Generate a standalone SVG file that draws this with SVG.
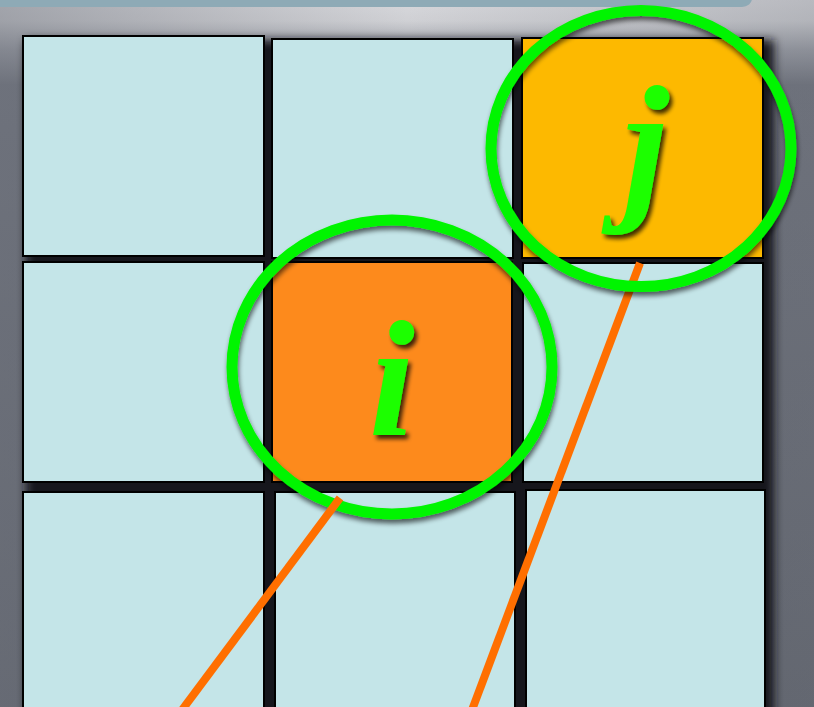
<svg xmlns="http://www.w3.org/2000/svg" width="814" height="707" viewBox="0 0 814 707">
<defs>
<linearGradient id="bg" x1="0" y1="0" x2="0" y2="1">
<stop offset="0" stop-color="#d8d8dc"/>
<stop offset="0.03" stop-color="#cfd0d4"/>
<stop offset="0.07" stop-color="#9a9da5"/>
<stop offset="0.12" stop-color="#6d717b"/>
<stop offset="1" stop-color="#5f636c"/>
</linearGradient>
<linearGradient id="side" x1="0" y1="0" x2="1" y2="0">
<stop offset="0" stop-color="#6e727c" stop-opacity="0.5"/>
<stop offset="0.5" stop-color="#6e727c" stop-opacity="0"/>
<stop offset="1" stop-color="#6e727c" stop-opacity="0.3"/>
</linearGradient>
<filter id="blur" x="-10%" y="-10%" width="120%" height="120%">
<feGaussianBlur stdDeviation="5"/>
</filter>
<filter id="ds" x="-10%" y="-10%" width="120%" height="120%">
<feGaussianBlur in="SourceAlpha" stdDeviation="2.5"/>
<feOffset dx="1" dy="4" result="b"/>
<feComponentTransfer><feFuncA type="linear" slope="0.6"/></feComponentTransfer>
<feMerge><feMergeNode/><feMergeNode in="SourceGraphic"/></feMerge>
</filter>
<filter id="ts" x="-20%" y="-20%" width="140%" height="140%">
<feGaussianBlur in="SourceAlpha" stdDeviation="2"/>
<feOffset dx="3" dy="4"/>
<feComponentTransfer><feFuncA type="linear" slope="0.75"/></feComponentTransfer>
<feMerge><feMergeNode/><feMergeNode in="SourceGraphic"/></feMerge>
</filter>
</defs>
<style>
.cell{fill:#c4e5e8;stroke:#000;stroke-width:2}
.ring{fill:none;stroke:#00f500;stroke-width:11}
.lbl{font-family:"Liberation Serif","Times New Roman",serif;font-style:italic;font-weight:bold;font-size:165px;fill:#1cff00;text-anchor:middle}
.conn{stroke:#ff6f00;stroke-width:8;fill:none}
</style>
<rect width="814" height="707" fill="url(#bg)"/>
<rect width="814" height="707" fill="url(#side)"/>
<rect x="-10" y="-10" width="762" height="17" rx="10" fill="#8eaab6"/>
<rect x="26" y="40" width="748" height="690" fill="#17181c" filter="url(#blur)"/>
<g id="cell-0-0"><rect class="cell" x="23" y="36" width="241" height="220"/></g>
<g id="cell-0-1"><rect class="cell" x="272" y="39" width="241" height="219"/></g>
<g id="cell-0-2"><rect class="cell" x="522" y="38" width="241" height="220" style="fill:#fdb900"/></g>
<g id="cell-1-0"><rect class="cell" x="23" y="262" width="241" height="220"/></g>
<g id="cell-1-1"><rect class="cell" x="272" y="262" width="240" height="220" style="fill:#fd8a1c"/></g>
<g id="cell-1-2"><rect class="cell" x="523" y="263" width="240" height="219"/></g>
<g id="cell-2-0"><rect class="cell" x="23" y="492" width="241" height="230"/></g>
<g id="cell-2-1"><rect class="cell" x="275" y="492" width="240" height="230"/></g>
<g id="cell-2-2"><rect class="cell" x="526" y="490" width="239" height="232"/></g>
<g id="connectors">
<line class="conn" x1="640" y1="263" x2="472" y2="710"/>
</g>
<g id="label-i"><text class="lbl" x="392" y="435" filter="url(#ts)">i</text></g>
<g id="label-j"><text class="lbl" x="646" y="200" filter="url(#ts)">j</text></g>
<g id="ring-i"><ellipse class="ring" cx="392" cy="367" rx="160" ry="147" filter="url(#ds)"/></g>
<g id="ring-j"><ellipse class="ring" cx="641" cy="148.5" rx="150" ry="138" filter="url(#ds)"/></g>
<g id="connectors-top">
<line class="conn" x1="340" y1="498" x2="182" y2="710"/>
</g>
</svg>
